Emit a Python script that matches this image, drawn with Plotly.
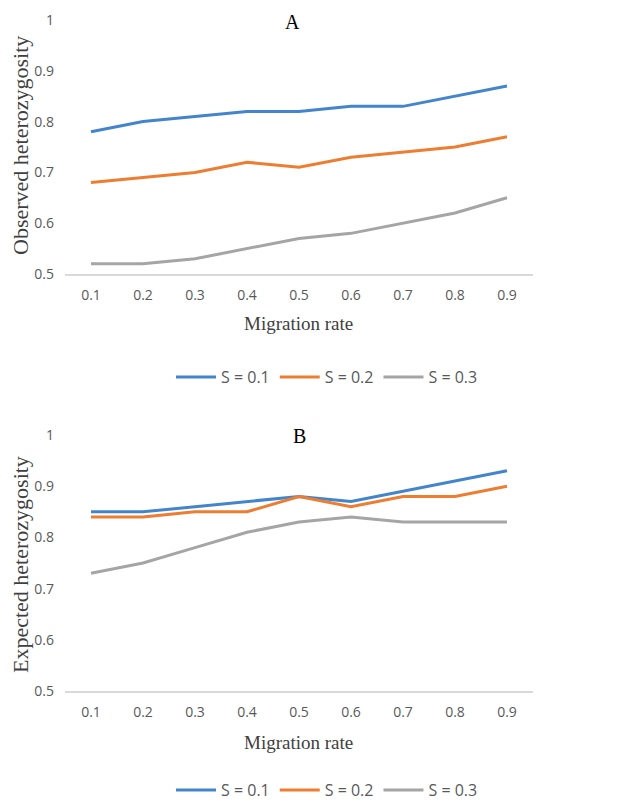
import plotly.graph_objects as go

migration = ["0.1", "0.2", "0.3", "0.4", "0.5", "0.6", "0.7", "0.8", "0.9"]
series_names = ["S = 0.1", "S = 0.2", "S = 0.3"]
observed_s01 = [0.78, 0.80, 0.81, 0.82, 0.82, 0.83, 0.83, 0.85, 0.87]
observed_s02 = [0.68, 0.69, 0.70, 0.72, 0.71, 0.73, 0.74, 0.75, 0.77]
observed_s03 = [0.52, 0.52, 0.53, 0.55, 0.57, 0.58, 0.60, 0.62, 0.65]
expected_s01 = [0.85, 0.85, 0.86, 0.87, 0.88, 0.87, 0.89, 0.91, 0.93]
expected_s02 = [0.84, 0.84, 0.85, 0.85, 0.88, 0.86, 0.88, 0.88, 0.90]
expected_s03 = [0.73, 0.75, 0.78, 0.81, 0.83, 0.84, 0.83, 0.83, 0.83]
y_tickvals = [0.5, 0.6, 0.7, 0.8, 0.9, 1.0]
y_ticktext = ["0.5", "0.6", "0.7", "0.8", "0.9", "1"]

colors = ["#4285CC", "#ED7D31", "#A5A5A5"]
W, H = 631, 802
OFF = 8  # page body margin

def py(p):
    return 1 - (p - OFF) / H

def px(p):
    return (p - OFF) / W

fig = go.Figure()
for name, vals, c in zip(series_names, [observed_s01, observed_s02, observed_s03], colors):
    fig.add_trace(go.Scatter(x=migration, y=vals, mode="lines", name=name,
                             line=dict(color=c, width=3), xaxis="x", yaxis="y", legend="legend"))
for name, vals, c in zip(series_names, [expected_s01, expected_s02, expected_s03], colors):
    fig.add_trace(go.Scatter(x=migration, y=vals, mode="lines", name=name,
                             line=dict(color=c, width=3), xaxis="x2", yaxis="y2", legend="legend2"))

tickfont = dict(family="Open Sans, Liberation Sans, sans-serif", size=14, color="#595959")
xcommon = dict(type="category", showgrid=False, showline=True, linecolor="#D9D9D9", linewidth=1.5,
               ticks="", tickfont=tickfont, zeroline=False, range=[-0.5, 8.5],
               automargin=False, ticklabelstandoff=7)
ycommon = dict(range=[0.5, 1.0], tickvals=y_tickvals, ticktext=y_ticktext, showgrid=False,
               showline=False, zeroline=False, ticks="", tickfont=tickfont,
               automargin=False, ticklabelstandoff=10)

serif = "Liberation Serif, Times New Roman, serif"
legfont = dict(family="Open Sans, Liberation Sans, sans-serif", size=16, color="#595959")

fig.update_layout(
    width=W, height=H,
    margin=dict(l=0, r=0, t=0, b=0, autoexpand=False),
    paper_bgcolor="white", plot_bgcolor="white",
    xaxis=dict(domain=[px(65), px(533)], anchor="y", **xcommon),
    yaxis=dict(domain=[py(274), py(20)], anchor="x", **ycommon),
    xaxis2=dict(domain=[px(65), px(533)], anchor="y2", **xcommon),
    yaxis2=dict(domain=[py(691), py(435)], anchor="x2", **ycommon),
    legend=dict(orientation="h", x=px(327), xanchor="center", y=py(377), yanchor="middle",
                font=legfont, itemwidth=40, bgcolor="rgba(0,0,0,0)"),
    legend2=dict(orientation="h", x=px(327), xanchor="center", y=py(790), yanchor="middle",
                 font=legfont, itemwidth=40, bgcolor="rgba(0,0,0,0)"),
    showlegend=True,
    annotations=[
        dict(text="A", x=px(292), y=py(22), xref="paper", yref="paper", showarrow=False,
             xanchor="center", yanchor="middle",
             font=dict(family=serif, size=20, color="#000000")),
        dict(text="B", x=px(299), y=py(436), xref="paper", yref="paper", showarrow=False,
             xanchor="center", yanchor="middle",
             font=dict(family=serif, size=20, color="#000000")),
        dict(text="Observed heterozygosity", x=px(20), y=py(146), xref="paper", yref="paper",
             showarrow=False, textangle=-90, xanchor="center", yanchor="middle",
             font=dict(family=serif, size=22, color="#404040")),
        dict(text="Expected heterozygosity", x=px(20), y=py(565), xref="paper", yref="paper",
             showarrow=False, textangle=-90, xanchor="center", yanchor="middle",
             font=dict(family=serif, size=22, color="#404040")),
        dict(text="Migration rate", x=px(298), y=py(323), xref="paper", yref="paper",
             showarrow=False, xanchor="center", yanchor="middle",
             font=dict(family=serif, size=19, color="#404040")),
        dict(text="Migration rate", x=px(298), y=py(742), xref="paper", yref="paper",
             showarrow=False, xanchor="center", yanchor="middle",
             font=dict(family=serif, size=19, color="#404040")),
    ],
)

fig.write_html("out.html")
